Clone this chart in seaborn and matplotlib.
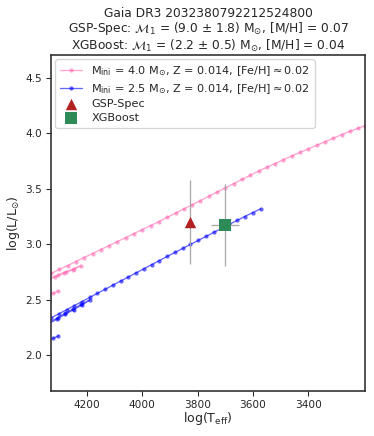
import matplotlib

matplotlib.use("Agg")
import matplotlib.pyplot as plt
import seaborn as sns

# Evolutionary tracks (Teff in K, log L/Lsun)
pink_main_teff = [4330, 4300, 4270, 4240, 4210, 4180, 4150, 4120, 4090, 4060,
                  4030, 4000, 3970, 3940, 3910, 3880, 3850, 3820, 3790, 3760,
                  3730, 3700, 3670, 3640, 3610, 3580, 3550, 3520, 3490, 3460,
                  3430, 3400, 3370, 3340, 3310, 3280, 3250, 3220, 3195]
pink_main_logl = [2.736, 2.772, 2.808, 2.844, 2.880, 2.916, 2.952, 2.988, 3.024, 3.060,
                  3.096, 3.132, 3.168, 3.204, 3.242, 3.280, 3.318, 3.356, 3.394, 3.432,
                  3.470, 3.508, 3.546, 3.584, 3.622, 3.660, 3.694, 3.728, 3.762, 3.796,
                  3.828, 3.860, 3.892, 3.924, 3.956, 3.988, 4.018, 4.046, 4.070]
pink_loop_teff = [4345, 4305, 4276, 4248, 4222, 4252, 4284, 4316, 4345]
pink_loop_logl = [2.680, 2.722, 2.752, 2.780, 2.806, 2.770, 2.738, 2.706, 2.675]
pink_low_teff = [4345, 4322, 4303]
pink_low_logl = [2.535, 2.558, 2.578]

blue_main_teff = [4330, 4302, 4274, 4246, 4218, 4190, 4162, 4134, 4106, 4078,
                  4050, 4022, 3994, 3966, 3938, 3910, 3882, 3854, 3826, 3798,
                  3770, 3742, 3714, 3686, 3658, 3630, 3601, 3572]
blue_main_logl = [2.336, 2.372, 2.409, 2.446, 2.483, 2.520, 2.557, 2.594, 2.631, 2.668,
                  2.705, 2.742, 2.779, 2.816, 2.853, 2.890, 2.926, 2.962, 2.998, 3.034,
                  3.070, 3.106, 3.142, 3.178, 3.214, 3.250, 3.285, 3.320]
blue_loop_teff = [4345, 4306, 4278, 4250, 4220, 4190, 4218, 4248, 4278, 4308, 4345]
blue_loop_logl = [2.280, 2.337, 2.377, 2.417, 2.458, 2.497, 2.452, 2.410, 2.368, 2.326, 2.272]
blue_low_teff = [4345, 4322, 4303]
blue_low_logl = [2.128, 2.152, 2.174]

# Star estimates
gsp_teff, gsp_logl, gsp_logl_err = 3827, 3.20, 0.375
xgb_teff, xgb_teff_err, xgb_logl, xgb_logl_err = 3700, 50, 3.177, 0.37

track_labels = [
    r"M$_{\rm ini}$ = 4.0 M$_{\odot}$, Z = 0.014, [Fe/H]$\approx$0.02",
    r"M$_{\rm ini}$ = 2.5 M$_{\odot}$, Z = 0.014, [Fe/H]$\approx$0.02",
]
title_lines = [
    "Gaia DR3 2032380792212524800",
    r"GSP-Spec: $\mathcal{M}_1$ = (9.0 $\pm$ 1.8) M$_{\odot}$, [M/H] = 0.07",
    r"XGBoost: $\mathcal{M}_1$ = (2.2 $\pm$ 0.5) M$_{\odot}$, [M/H] = 0.04",
]

sns.set_theme(style="ticks")
plt.rcParams["font.family"] = ["DejaVu Sans"]
plt.rcParams["axes.edgecolor"] = "#333333"

DPI = 95
fig = plt.figure(figsize=(374 / DPI, 436 / DPI), dpi=DPI)
ax = fig.add_axes([0.1364, 0.1032, 0.8396, 0.7707])

line_kw = dict(sort=False, estimator=None, marker="o", markersize=3.2,
               markeredgewidth=0, linewidth=1.0, alpha=0.6, ax=ax)

sns.lineplot(x=pink_main_teff, y=pink_main_logl, color="hotpink", label=track_labels[0], **line_kw)
sns.lineplot(x=blue_main_teff, y=blue_main_logl, color="blue", label=track_labels[1], **line_kw)
sns.lineplot(x=pink_loop_teff, y=pink_loop_logl, color="hotpink", **line_kw)
sns.lineplot(x=pink_low_teff, y=pink_low_logl, color="hotpink", **line_kw)
sns.lineplot(x=blue_loop_teff, y=blue_loop_logl, color="blue", **line_kw)
sns.lineplot(x=blue_low_teff, y=blue_low_logl, color="blue", **line_kw)

ax.errorbar([gsp_teff], [gsp_logl], yerr=[gsp_logl_err], fmt="none",
            ecolor="#aaaaaa", elinewidth=1, zorder=3)
ax.errorbar([xgb_teff], [xgb_logl], xerr=[xgb_teff_err], yerr=[xgb_logl_err],
            fmt="none", ecolor="#aaaaaa", elinewidth=1, zorder=3)
sns.scatterplot(x=[gsp_teff], y=[gsp_logl], marker="^", color="firebrick", s=75,
                linewidth=0, label="GSP-Spec", zorder=4, ax=ax)
sns.scatterplot(x=[xgb_teff], y=[xgb_logl], marker="s", color="seagreen", s=70,
                linewidth=0, label="XGBoost", zorder=4, ax=ax)

ax.set_xlim(4330, 3195)
ax.set_ylim(1.676, 4.707)
ax.set_xticks([4200, 4000, 3800, 3600, 3400])
ax.set_yticks([2.0, 2.5, 3.0, 3.5, 4.0, 4.5])
ax.tick_params(labelsize=8, length=3.5, width=0.8)
ax.set_xlabel(r"log(T$_{\rm eff}$)", fontsize=9.5, labelpad=0)
ax.set_ylabel(r"log(L/L$_{\odot}$)", fontsize=9.5, labelpad=2)
ax.set_title("\n".join(title_lines), fontsize=9.3, linespacing=1.05, pad=4)
ax.legend(loc="upper left", fontsize=8.5, frameon=True, handlelength=2.0,
          borderaxespad=0.4, labelspacing=0.35)

fig.savefig("out.png", dpi=DPI)
